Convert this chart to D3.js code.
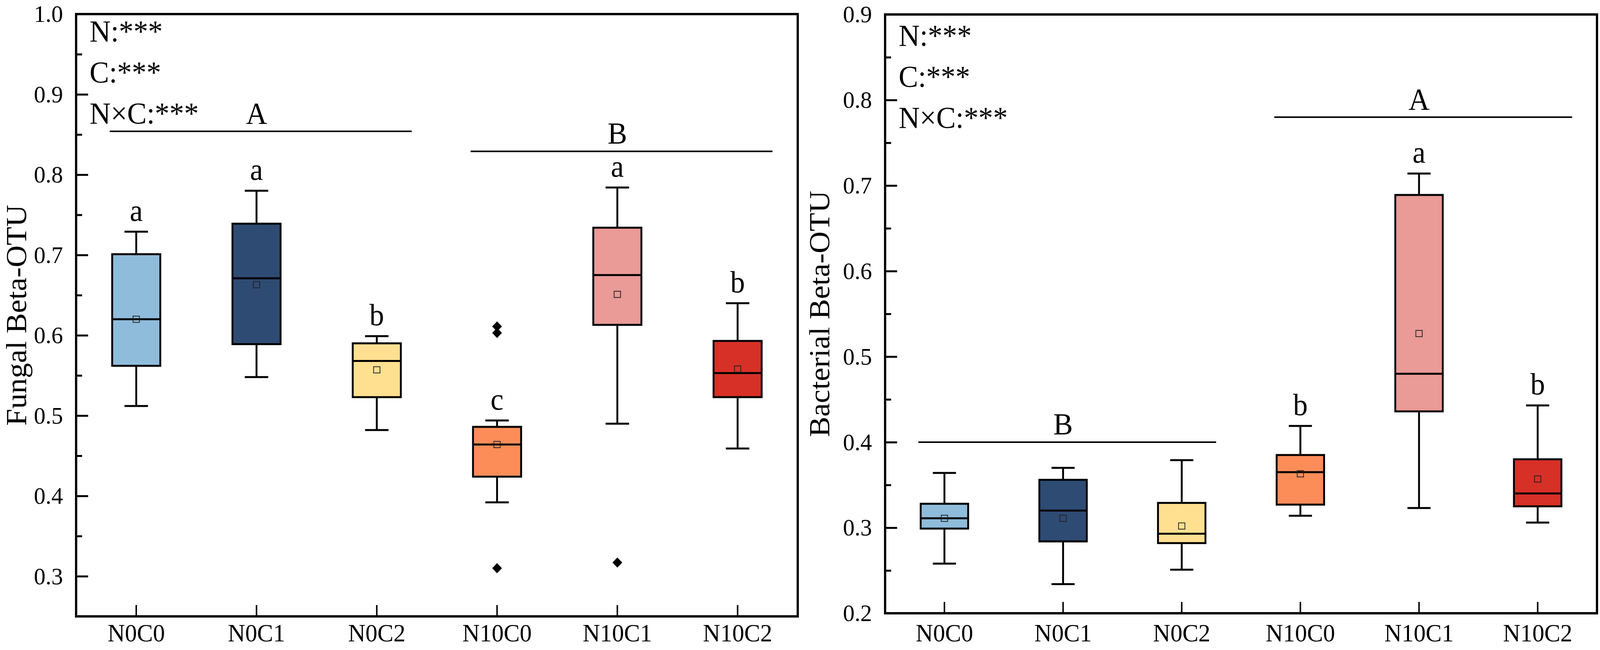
<!DOCTYPE html>
<html>
<head>
<meta charset="utf-8">
<script src="https://cdn.jsdelivr.net/npm/d3@7"></script>
<style>
  html, body { margin: 0; padding: 0; background: #fff; overflow: hidden; width: 100%; height: 100%; }
  svg { display: block; width: 100vw; height: 100vh; }
  text { font-family: "Liberation Serif", "Times New Roman", serif; fill: #000; }
</style>
</head>
<body>
<svg id="chart" viewBox="0 0 4268 1663" preserveAspectRatio="none"></svg>
<script>
// ---- data ----
const categories = ["N0C0", "N0C1", "N0C2", "N10C0", "N10C1", "N10C2"];
const boxColors = ["#8fbcdb", "#2e4b73", "#fee090", "#fc8d59", "#ea9a97", "#d73027"];
const statLines = ["N:***", "C:***", "N×C:***"];

// Fungal Beta-OTU
const fungalLow    = [0.512, 0.548, 0.482, 0.392, 0.490, 0.459];
const fungalQ1     = [0.562, 0.589, 0.523, 0.424, 0.613, 0.523];
const fungalMedian = [0.620, 0.671, 0.568, 0.464, 0.675, 0.553];
const fungalQ3     = [0.701, 0.739, 0.590, 0.486, 0.734, 0.593];
const fungalHigh   = [0.729, 0.780, 0.599, 0.494, 0.784, 0.640];
const fungalMean   = [0.620, 0.663, 0.557, 0.464, 0.651, 0.558];
const fungalOutliers = [[], [], [], [0.611, 0.603, 0.310], [0.317], []];
const fungalLetters  = ["a", "a", "b", "c", "a", "b"];
const fungalTicks = [0.3, 0.4, 0.5, 0.6, 0.7, 0.8, 0.9, 1.0];
const fungalMinor = [0.35, 0.45, 0.55, 0.65, 0.75, 0.85, 0.95];
const fungalGroups = [
  { label: "A", from: "N0C0", to: "N0C2", value: 0.854 },
  { label: "B", from: "N10C0", to: "N10C2", value: 0.829 }
];

// Bacterial Beta-OTU
const bactLow    = [0.258, 0.234, 0.251, 0.314, 0.323, 0.306];
const bactQ1     = [0.299, 0.284, 0.282, 0.327, 0.436, 0.325];
const bactMedian = [0.311, 0.320, 0.293, 0.365, 0.480, 0.340];
const bactQ3     = [0.328, 0.356, 0.329, 0.385, 0.689, 0.380];
const bactHigh   = [0.364, 0.370, 0.379, 0.419, 0.714, 0.443];
const bactMean   = [0.311, 0.311, 0.302, 0.363, 0.527, 0.357];
const bactOutliers = [[], [], [], [], [], []];
const bactLetters  = ["", "", "", "b", "a", "b"];
const bactTicks = [0.2, 0.3, 0.4, 0.5, 0.6, 0.7, 0.8, 0.9];
const bactMinor = [0.25, 0.35, 0.45, 0.55, 0.65, 0.75, 0.85];
const bactGroups = [
  { label: "B", from: "N0C0", to: "N0C2", value: 0.40 },
  { label: "A", from: "N10C0", to: "N10C2", value: 0.78 }
];

const svg = d3.select("#chart");

function drawPanel(p) {
    const x = d3.scaleBand().domain(categories).range([p.left, p.right]).padding(0);
    const y = d3.scaleLinear().domain(p.domain).range([p.bottom, p.top]);
    const bw = x.bandwidth();
    const boxW = bw * 0.40;
    const capW = bw * 0.195;
    const g = svg.append("g");

    // === axes (ticks point inward) ===
    const yAxis = g.append("g")
        .attr("transform", `translate(${p.left},0)`)
        .call(d3.axisLeft(y).tickValues(p.ticks).tickFormat(d3.format(".1f"))
            .tickSizeInner(-32).tickSizeOuter(0).tickPadding(35));
    const yMinor = g.append("g")
        .attr("transform", `translate(${p.left},0)`)
        .call(d3.axisLeft(y).tickValues(p.minor).tickFormat("")
            .tickSizeInner(-16).tickSizeOuter(0));
    const xAxis = g.append("g")
        .attr("transform", `translate(0,${p.bottom})`)
        .call(d3.axisBottom(x).tickSizeInner(-29).tickSizeOuter(0));

    [yAxis, yMinor, xAxis].forEach(a => {
        a.select(".domain").remove();
        a.selectAll("line").attr("stroke", "#000").attr("stroke-width", 5);
    });
    xAxis.selectAll("line").attr("stroke-width", 4);
    yAxis.selectAll("text")
        .style("font-size", "62px")
        .attr("fill", "#000");
    xAxis.selectAll("text")
        .attr("dy", null)
        .attr("y", p.labelY)
        .style("font-size", "64px")
        .attr("fill", "#000");

    // frame
    g.append("rect")
        .attr("x", p.left).attr("y", p.top)
        .attr("width", p.right - p.left).attr("height", p.bottom - p.top)
        .attr("fill", "none").attr("stroke", "#000").attr("stroke-width", 6);

    // y title
    g.append("text")
        .attr("transform", `translate(${p.titleX},${(p.top + p.bottom) / 2}) rotate(-90)`)
        .attr("text-anchor", "middle")
        .style("font-size", "78px")
        .text(p.title);

    // stats text
    g.selectAll(".stat").data(statLines).enter().append("text")
        .attr("x", p.left + 36)
        .attr("y", (d, i) => p.statTop + i * 105)
        .style("font-size", "78px")
        .text(d => d);

    // === boxes ===
    const rows = categories.map((c, i) => ({
        cat: c, color: boxColors[i],
        low: p.low[i], q1: p.q1[i], med: p.median[i], q3: p.q3[i], high: p.high[i],
        mean: p.mean[i], out: p.outliers[i], letter: p.letters[i]
    }));

    const box = g.selectAll(".box").data(rows).enter().append("g")
        .attr("transform", d => `translate(${x(d.cat) + bw / 2},0)`);

    box.append("line")
        .attr("y1", d => y(d.low)).attr("y2", d => y(d.high))
        .attr("stroke", "#000").attr("stroke-width", 5);
    box.append("line")
        .attr("x1", -capW / 2).attr("x2", capW / 2)
        .attr("y1", d => y(d.high)).attr("y2", d => y(d.high))
        .attr("stroke", "#000").attr("stroke-width", 5);
    box.append("line")
        .attr("x1", -capW / 2).attr("x2", capW / 2)
        .attr("y1", d => y(d.low)).attr("y2", d => y(d.low))
        .attr("stroke", "#000").attr("stroke-width", 5);
    box.append("rect")
        .attr("x", -boxW / 2).attr("width", boxW)
        .attr("y", d => y(d.q3)).attr("height", d => y(d.q1) - y(d.q3))
        .attr("fill", d => d.color)
        .attr("stroke", "#000").attr("stroke-width", 5);
    box.append("line")
        .attr("x1", -boxW / 2).attr("x2", boxW / 2)
        .attr("y1", d => y(d.med)).attr("y2", d => y(d.med))
        .attr("stroke", "#000").attr("stroke-width", 5);
    box.append("rect")
        .attr("x", -8.5).attr("width", 17)
        .attr("y", d => y(d.mean) - 8).attr("height", 16)
        .attr("fill", "none").attr("stroke", "#222").attr("stroke-width", 2);

    box.selectAll(".out").data(d => d.out).enter().append("path")
        .attr("d", d3.symbol().type(d3.symbolSquare).size(340))
        .attr("transform", d => `translate(0,${y(d)}) rotate(45)`)
        .attr("fill", "#000");

    box.append("text")
        .attr("text-anchor", "middle")
        .attr("y", d => y(d.high) - 28)
        .style("font-size", "78px")
        .text(d => d.letter);

    // === group brackets ===
    const grp = g.selectAll(".grp").data(p.groups).enter().append("g");
    grp.append("line")
        .attr("x1", d => x(d.from) + bw * 0.28)
        .attr("x2", d => x(d.to) + bw * 0.79)
        .attr("y1", d => y(d.value)).attr("y2", d => y(d.value))
        .attr("stroke", "#000").attr("stroke-width", 4);
    grp.append("text")
        .attr("text-anchor", "middle")
        .attr("x", d => (x(d.from) + x(d.to) + bw) / 2)
        .attr("y", d => y(d.value) - 20)
        .style("font-size", "78px")
        .text(d => d.label);
}

drawPanel({
    left: 203, right: 2128, top: 36, bottom: 1577, domain: [0.25, 1.0],
    ticks: fungalTicks, minor: fungalMinor,
    low: fungalLow, q1: fungalQ1, median: fungalMedian, q3: fungalQ3, high: fungalHigh,
    mean: fungalMean, outliers: fungalOutliers, letters: fungalLetters, groups: fungalGroups,
    title: "Fungal Beta-OTU", titleX: 70, statTop: 106, labelY: 64
});

drawPanel({
    left: 2361, right: 4260, top: 37, bottom: 1569, domain: [0.2, 0.9],
    ticks: bactTicks, minor: bactMinor,
    low: bactLow, q1: bactQ1, median: bactMedian, q3: bactQ3, high: bactHigh,
    mean: bactMean, outliers: bactOutliers, letters: bactLetters, groups: bactGroups,
    title: "Bacterial Beta-OTU", titleX: 2212, statTop: 117, labelY: 72
});
</script>
</body>
</html>
